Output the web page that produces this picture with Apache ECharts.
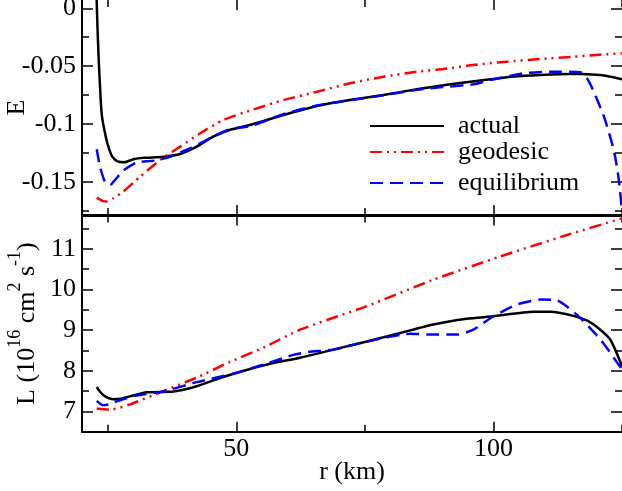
<!DOCTYPE html>
<html><head><meta charset="utf-8">
<script src="https://cdn.jsdelivr.net/npm/echarts@6/dist/echarts.min.js"></script>
<style>html,body{margin:0;padding:0;background:#fff}#c{width:622px;height:491px}</style>
</head><body><div id="c"></div>
<script>
// ---- data (r in km) ----
const eActualR = [22.8, 22.85, 23.05, 23.31, 23.64, 23.89, 24.47, 25.12, 25.9, 27.06, 28.2, 30.0, 32.0, 35.8, 39.07, 42.3, 45.5, 48.8, 53.0, 59.2, 65.7, 72.1, 78.6, 85.1, 91.6, 99.4, 104.0, 109.1, 113.0, 116.9, 120.0, 122.1, 125.0];
const eActual  = [0.02, 0.0072, -0.0213, -0.0505, -0.0793, -0.0937, -0.1078, -0.1196, -0.1283, -0.1326, -0.1331, -0.1305, -0.1293, -0.1283, -0.126, -0.1196, -0.111, -0.105, -0.1005, -0.0922, -0.0844, -0.0793, -0.0749, -0.070, -0.0657, -0.0614, -0.059, -0.0576, -0.057, -0.0568, -0.0575, -0.0585, -0.0614];

const eGeoR = [22.86, 24.0, 24.8, 26.0, 28.0, 31.3, 35.2, 39.1, 43.0, 47.5, 53.0, 59.2, 65.7, 72.1, 78.6, 85.1, 90.3, 96.0, 102.6, 109.0, 115.6, 120.0, 125.0];
const eGeo  = [-0.1637, -0.1665, -0.1671, -0.1645, -0.1585, -0.1455, -0.1311, -0.1196, -0.108, -0.0965, -0.0879, -0.0793, -0.0721, -0.0648, -0.0591, -0.0548, -0.0525, -0.049, -0.0461, -0.0438, -0.0418, -0.0403, -0.0389];

const eEqR = [22.86, 23.5, 24.47, 25.45, 26.5, 28.0, 30.6, 33.9, 37.1, 41.0, 45.5, 48.8, 53.0, 59.2, 65.7, 72.1, 78.6, 85.1, 89.6, 96.1, 99.4, 105.9, 111.1, 116.9, 118.2, 119.5, 121.5, 123.4, 124.3, 125.0];
const eEq  = [-0.1219, -0.137, -0.150, -0.1527, -0.148, -0.1404, -0.1334, -0.1317, -0.1283, -0.121, -0.111, -0.1045, -0.1015, -0.0915, -0.084, -0.0795, -0.0752, -0.0705, -0.0683, -0.0657, -0.062, -0.0562, -0.0548, -0.0553, -0.0605, -0.072, -0.0937, -0.1225, -0.1455, -0.175];

const lActualR = [22.86, 23.6, 24.47, 26.1, 27.5, 29.3, 32.6, 37.8, 42.3, 46.8, 52.0, 57.2, 62.4, 68.9, 75.4, 81.9, 88.3, 94.8, 100.0, 107.8, 111.0, 113.0, 116.9, 119.5, 122.7, 125.0];
const lActual  = [7.60, 7.47, 7.37, 7.30, 7.31, 7.37, 7.47, 7.49, 7.62, 7.82, 8.02, 8.19, 8.32, 8.52, 8.72, 8.93, 9.14, 9.28, 9.34, 9.45, 9.45, 9.42, 9.30, 9.14, 8.77, 8.11];

const lGeoR = [22.86, 25.45, 29.3, 35.8, 42.3, 48.8, 55.3, 62.4, 75.4, 88.3, 101.3, 114.3, 125.0];
const lGeo  = [7.07, 7.04, 7.17, 7.50, 7.83, 8.22, 8.57, 9.01, 9.59, 10.24, 10.81, 11.34, 11.75];

const lEqR = [22.86, 24.1, 25.2, 26.75, 30.6, 35.8, 42.3, 48.8, 55.3, 61.1, 64.0, 68.9, 75.4, 83.8, 88.0, 92.9, 96.1, 100.0, 104.6, 109.1, 112.4, 116.2, 120.8, 125.0];
const lEq  = [7.26, 7.15, 7.17, 7.25, 7.39, 7.49, 7.72, 7.91, 8.15, 8.39, 8.46, 8.52, 8.72, 8.91, 8.89, 8.89, 9.01, 9.34, 9.63, 9.75, 9.73, 9.38, 8.77, 8.03];

const xMajor = [50, 100];
const xMinor = [25, 75, 125];
const eMajor = [-0.15, -0.1, -0.05, 0];
const eMinor = [-0.175, -0.125, -0.075, -0.025];
const lMajor = [7, 8, 9, 10, 11];
const lMinor = [7.5, 8.5, 9.5, 10.5, 11.5];
const seriesNames = ['actual', 'geodesic', 'equilibrium'];

// ---- chart ----
const FONT = '"Liberation Serif","Times New Roman",serif';
const pairs = (xs, ys) => xs.map((x, i) => [x, ys[i]]);
const X_MIN = 20, X_MAX = 125;
const E_MIN = -0.1787, E_MAX = 0.0072;
const L_MIN = 6.5, L_MAX = 11.82;

function ax(kind, grid, pos, min, max, ticks, len, opts) {
  opts = opts || {};
  return Object.assign({
    type: 'value', gridIndex: grid, position: pos, min: min, max: max,
    nameMoveOverlap: false,
    axisLine: { show: !!opts.line, onZero: false, lineStyle: { color: '#000', width: 2 } },
    axisTick: { show: true, inside: true, length: len, customValues: ticks, lineStyle: { color: '#000', width: 1.5 } },
    axisLabel: { show: !!opts.labels, customValues: opts.labels || [], margin: kind === 'x' ? 4 : 6,
      color: '#000', fontFamily: FONT, fontSize: 26 },
    splitLine: { show: false }
  }, opts.extra || {});
}

const xAxis = [];
const yAxis = [];
for (let g = 0; g < 2; g++) {
  xAxis.push(ax('x', g, 'bottom', X_MIN, X_MAX, xMajor, 10, { line: true, labels: g === 1 ? xMajor : null,
    extra: g === 1 ? { name: 'r (km)', nameLocation: 'middle', nameGap: 27,
      nameTextStyle: { fontFamily: FONT, fontSize: 26, color: '#000' } } : {} }));
  xAxis.push(ax('x', g, 'bottom', X_MIN, X_MAX, xMinor, 7, {}));
  xAxis.push(ax('x', g, 'top', X_MIN, X_MAX, xMajor, 10, { line: g === 1 }));
  xAxis.push(ax('x', g, 'top', X_MIN, X_MAX, xMinor, 7, {}));
}
// grid 0 : E
yAxis.push(ax('y', 0, 'left', E_MIN, E_MAX, eMajor, 11, { line: true, labels: eMajor,
  extra: { name: 'E', nameLocation: 'middle', nameRotate: 90, nameGap: 52,
    nameTextStyle: { fontFamily: FONT, fontSize: 26, color: '#000' } } }));
yAxis.push(ax('y', 0, 'left', E_MIN, E_MAX, eMinor, 7, {}));
yAxis.push(ax('y', 0, 'right', E_MIN, E_MAX, eMajor, 11, {}));
yAxis.push(ax('y', 0, 'right', E_MIN, E_MAX, eMinor, 7, {}));
// grid 1 : L
yAxis.push(ax('y', 1, 'left', L_MIN, L_MAX, lMajor, 11, { line: true, labels: lMajor,
  extra: { name: '{n|L (10}{s|16}{n| cm}{s|2}{n| s}{s|-1}{n|)}', nameLocation: 'middle', nameRotate: 90, nameGap: 42,
    nameTextStyle: { fontFamily: FONT, fontSize: 26, color: '#000',
      rich: { n: { fontFamily: FONT, fontSize: 26, color: '#000', lineHeight: 34, verticalAlign: 'bottom' },
              s: { fontFamily: FONT, fontSize: 18, color: '#000', lineHeight: 20, verticalAlign: 'top' } } } } }));
yAxis.push(ax('y', 1, 'left', L_MIN, L_MAX, lMinor, 7, {}));
yAxis.push(ax('y', 1, 'right', L_MIN, L_MAX, lMajor, 11, {}));
yAxis.push(ax('y', 1, 'right', L_MIN, L_MAX, lMinor, 7, {}));

const styles = {
  actual: { color: '#000000', type: 'solid' },
  geodesic: { color: '#ff0000', type: [12, 5, 2, 5, 2, 5] },
  equilibrium: { color: '#0000ff', type: [13, 7] }
};
function mk(name, g, data) {
  return {
    type: 'line', name: name, xAxisIndex: g * 4, yAxisIndex: g * 4, data: data,
    symbol: 'none', showSymbol: false, smooth: 0.2, clip: true, silent: true, animation: false,
    itemStyle: { color: styles[name].color },
    lineStyle: { color: styles[name].color, width: 2.5, type: styles[name].type }
  };
}
const series = [
  mk('actual', 0, pairs(eActualR, eActual)),
  mk('geodesic', 0, pairs(eGeoR, eGeo)),
  mk('equilibrium', 0, pairs(eEqR, eEq)),
  mk('actual', 1, pairs(lActualR, lActual)),
  mk('geodesic', 1, pairs(lGeoR, lGeo)),
  mk('equilibrium', 1, pairs(lEqR, lEq))
];

const legendTops = [113, 139, 170];
const legend = seriesNames.map((n, i) => ({
  data: [n], left: 369, top: legendTops[i], orient: 'vertical', padding: 0, itemGap: 0,
  itemWidth: 74, itemHeight: 14, selectedMode: false,
  itemStyle: { opacity: 0, borderWidth: 0 },
  textStyle: { fontFamily: FONT, fontSize: 26, color: '#000', padding: [0, 0, 0, 9] }
}));

const chart = echarts.init(document.getElementById('c'), null, { renderer: 'canvas' });
chart.setOption({
  animation: false,
  backgroundColor: '#fff',
  grid: [
    { left: 82, top: 0, width: 540, height: 215, outerBoundsMode: 'none', containLabel: false },
    { left: 82, top: 215.5, width: 540, height: 216.2, outerBoundsMode: 'none', containLabel: false }
  ],
  legend: legend,
  xAxis: xAxis,
  yAxis: yAxis,
  series: series
});
</script></body></html>
